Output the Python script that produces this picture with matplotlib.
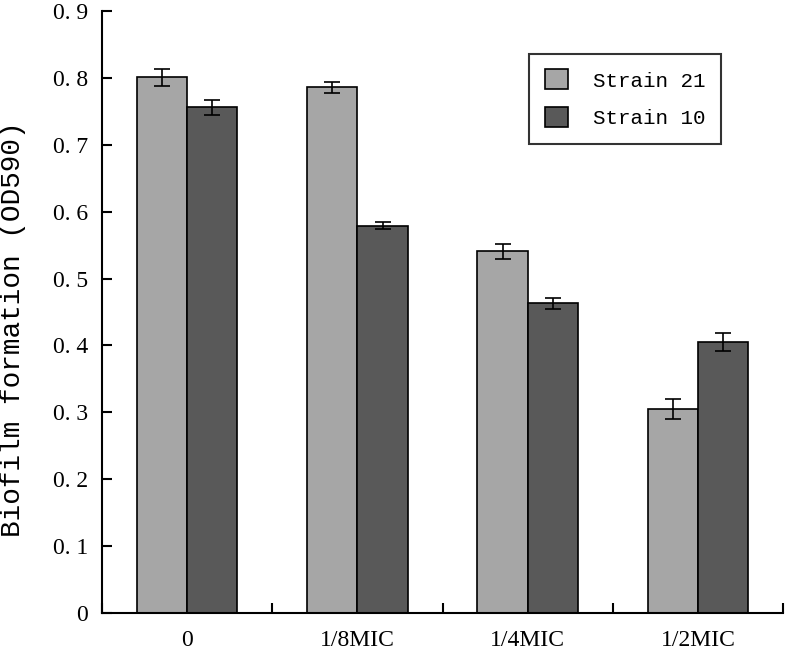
import numpy as np
import matplotlib
matplotlib.use('Agg')
import matplotlib.pyplot as plt

categories = ['0', '1/8MIC', '1/4MIC', '1/2MIC']
strain21 = [0.801, 0.786, 0.541, 0.305]
strain21_err = [0.013, 0.008, 0.011, 0.015]
strain10 = [0.756, 0.579, 0.463, 0.405]
strain10_err = [0.011, 0.005, 0.008, 0.014]

mono = 'Liberation Mono'
serif = 'Liberation Serif'

fig = plt.figure(figsize=(7.86, 6.51), dpi=100)
ax = fig.add_axes([0.1298, 0.0584, 0.8664, 0.9246])

x = np.arange(len(categories))
w = 0.295
ax.bar(x - w/2, strain21, w, yerr=strain21_err, color='#a6a6a6', edgecolor='black',
       linewidth=1.2, capsize=6, error_kw={'elinewidth': 1.2, 'capthick': 1.2},
       label='Strain 21')
ax.bar(x + w/2, strain10, w, yerr=strain10_err, color='#595959', edgecolor='black',
       linewidth=1.2, capsize=6, error_kw={'elinewidth': 1.2, 'capthick': 1.2},
       label='Strain 10')

ax.set_xlim(-0.5, 3.5)
ax.set_ylim(0, 0.9)
ax.set_yticks(np.arange(0, 0.91, 0.1))
ax.set_yticklabels(['0'] + ['0. %d' % i for i in range(1, 10)], fontfamily=serif, fontsize=17)
ax.set_xticks(x)
ax.set_xticklabels(categories, fontfamily=serif, fontsize=17)
ax.set_xticks(np.arange(-0.5, 3.6, 1), minor=True)

ax.tick_params(axis='x', which='major', length=0, pad=12)
ax.tick_params(axis='x', which='minor', direction='in', length=7, width=1.5)
ax.tick_params(axis='y', direction='in', length=7, width=1.5, pad=10)

for s in ['top', 'right']:
    ax.spines[s].set_visible(False)
for s in ['left', 'bottom']:
    ax.spines[s].set_linewidth(1.5)

ax.set_ylabel('Biofilm formation (OD590)', fontfamily=mono, fontsize=20)
ax.yaxis.set_label_coords(-0.112, 0.472)

leg = ax.legend(loc='upper right', bbox_to_anchor=(0.909, 0.929), prop={'family': mono, 'size': 15},
                frameon=True, fancybox=False, edgecolor='black', handlelength=1.1,
                handleheight=1.1, handletextpad=1.2, labelspacing=0.8, borderpad=0.75,
                borderaxespad=0)
leg.get_frame().set_linewidth(1.5)

fig.savefig('out.png', dpi=100)
